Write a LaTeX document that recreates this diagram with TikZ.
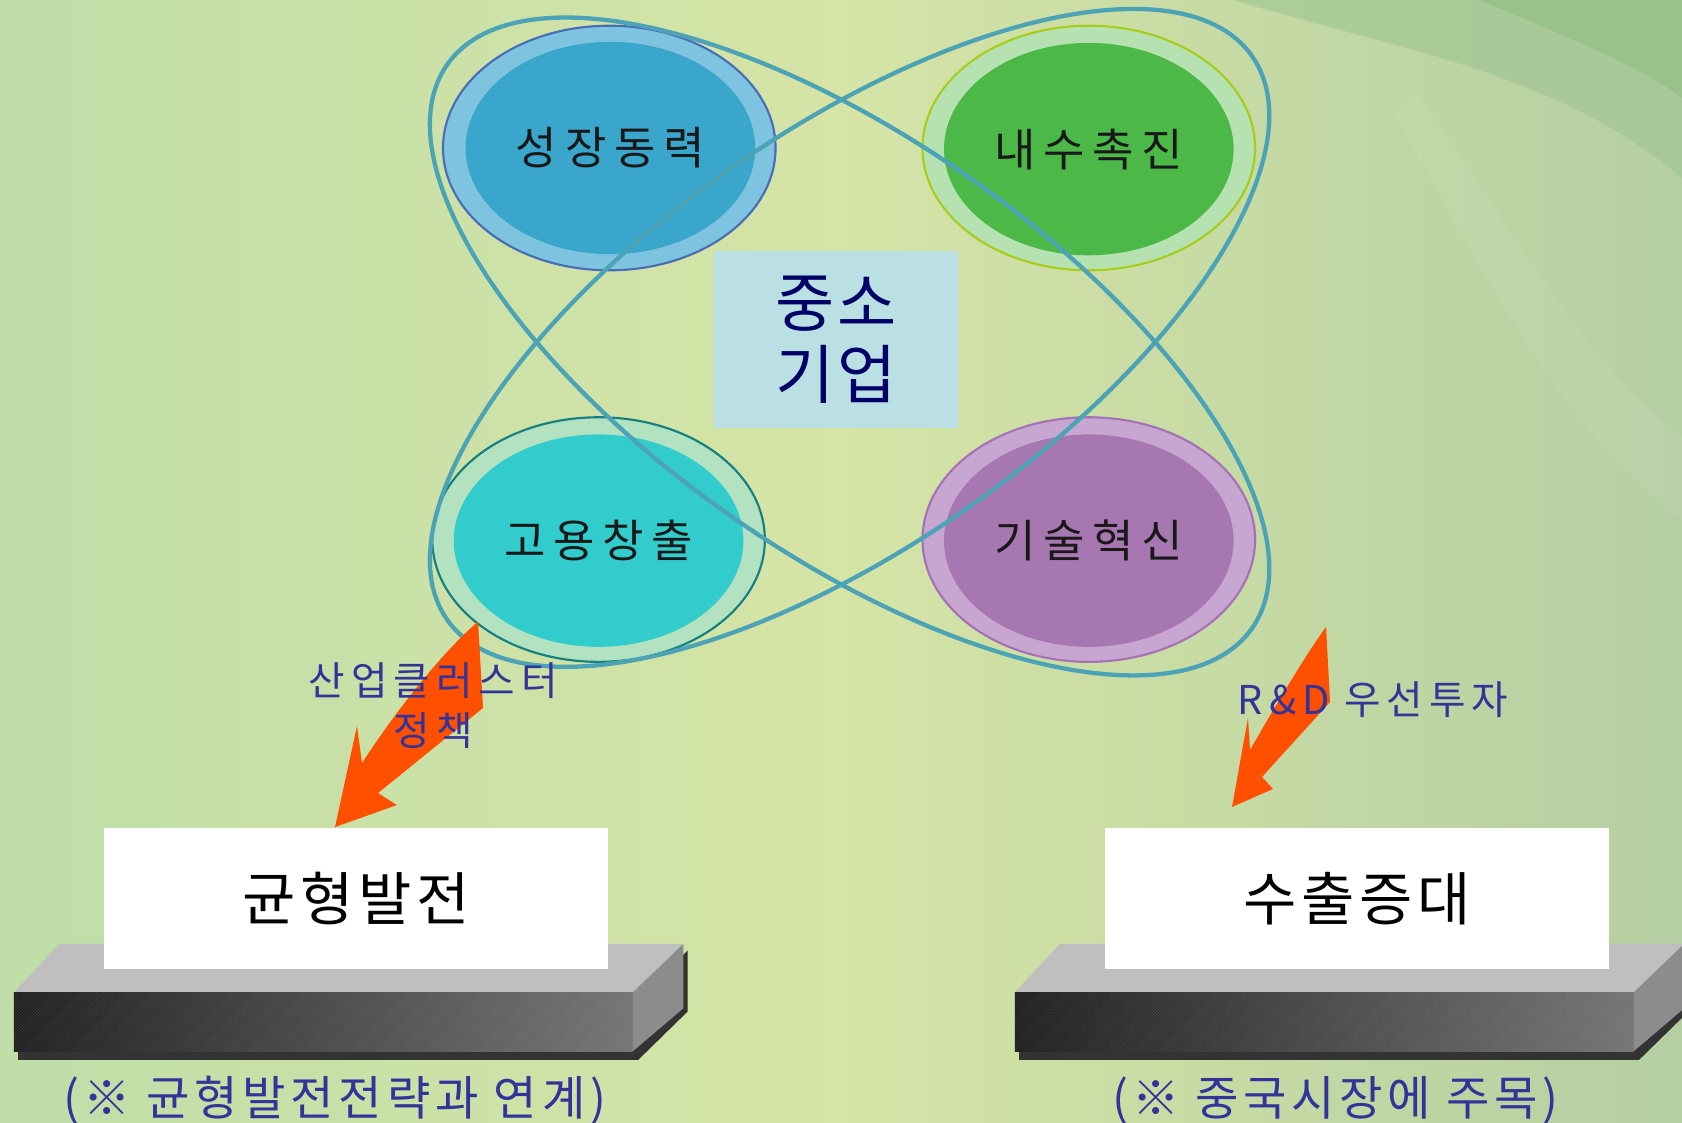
\documentclass[tikz,border=0pt]{standalone}
\usepackage{fontspec}
\setmainfont{Noto Sans CJK KR}
\usepackage{tikz}
\usetikzlibrary{shapes,patterns}

\definecolor{bgleft}{HTML}{BFDEA8}
\definecolor{bgmid}{HTML}{D6E4A6}
\definecolor{bgright}{HTML}{B4CFA2}
\definecolor{swoosh}{HTML}{A2C794}
\definecolor{swooshdark}{HTML}{96C088}
\definecolor{orbit}{HTML}{4BA3B5}
\definecolor{labelblue}{HTML}{333399}
\definecolor{navy}{HTML}{000066}
\definecolor{arrowred}{HTML}{FF5000}
\definecolor{centerbox}{HTML}{BBE0E4}
\definecolor{growthrim}{HTML}{4A6DB8}
\definecolor{growthring}{HTML}{7EC4E0}
\definecolor{growthcore}{HTML}{3AA6CC}
\definecolor{demandrim}{HTML}{A8CC1E}
\definecolor{demandring}{HTML}{B6E2B2}
\definecolor{demandcore}{HTML}{4CB848}
\definecolor{jobsrim}{HTML}{158080}
\definecolor{jobsring}{HTML}{B2E2C0}
\definecolor{jobscore}{HTML}{33CCCC}
\definecolor{techrim}{HTML}{A572B5}
\definecolor{techring}{HTML}{C8A6D2}
\definecolor{techcore}{HTML}{A677B0}

\begin{document}
\begin{tikzpicture}[x=1pt,y=1pt]
		\tikzstyle{ring}=[ellipse, line width=2pt, minimum width=310pt, minimum height=228pt, inner sep=0pt]
		\tikzstyle{core}=[ellipse, minimum width=270pt, minimum height=198pt, inner sep=0pt, text=black!90, font=\fontsize{42}{48}\selectfont\addfontfeature{LetterSpace=17}]
		\tikzstyle{orbit_line}=[draw=orbit, line width=4pt]
		\tikzstyle{plate}=[fill=white, minimum width=470pt, minimum height=131pt, inner sep=0pt, font=\fontsize{54}{60}\selectfont\addfontfeature{LetterSpace=8}]
		\tikzstyle{note}=[text=labelblue, font=\fontsize{44}{48}\selectfont\addfontfeature{LetterSpace=10}]
		\tikzstyle{policy}=[text=labelblue, align=center, font=\fontsize{37}{47}\selectfont\addfontfeature{LetterSpace=15}]
		\tikzstyle{bigarrow}=[fill=arrowred]

		\clip (0,0) rectangle (1568,1046);

		% background
		\shade[left color=bgleft, right color=bgright, middle color=bgmid] (0,0) rectangle (1568,1046);
		\fill[swoosh, opacity=0.7] (1150,1046) .. controls (1300,1000) and (1450,980) .. (1568,880) -- (1568,1046) -- cycle;
		\fill[swooshdark, opacity=0.8] (1380,1046) .. controls (1450,1015) and (1520,990) .. (1568,955) -- (1568,1046) -- cycle;
		\fill[white, opacity=0.06] (1320,960) .. controls (1400,850) and (1480,700) .. (1568,640) -- (1568,560) .. controls (1450,650) and (1380,800) .. (1300,940) -- cycle;

		% four goals
		\node [ring, draw=growthrim, fill=growthring] (growthring) at (568,908) {};
		\node [core, fill=growthcore] (growth) at (569,908) {성장동력};

		\node [ring, draw=demandrim, fill=demandring] (demandring) at (1015,908) {};
		\node [core, fill=demandcore] (demand) at (1015,907) {내수촉진};

		\node [ring, draw=jobsrim, fill=jobsring] (jobsring) at (558,543) {};
		\node [core, fill=jobscore] (jobs) at (558,542) {고용창출};

		\node [ring, draw=techrim, fill=techring] (techring) at (1015,543) {};
		\node [core, fill=techcore] (tech) at (1015,542) {기술혁신};

		% crossing orbits
		\draw [orbit_line, rotate around={-35:(792,723)}] (792,723) ellipse [x radius=458, y radius=193];
		\draw [orbit_line, rotate around={35:(792,731)}] (792,731) ellipse [x radius=458, y radius=193];

		\node [fill=centerbox, minimum width=227pt, minimum height=165pt, text=navy, align=center, font=\fontsize{60}{67}\selectfont\addfontfeature{LetterSpace=5}] (sme) at (779.5,729.5) {중소\\기업};

		% arrows
		\fill[bigarrow] (445.6,466.2) -- (450.3,386) -- (352.4,306.7) -- (370,295.5) -- (312.3,275) -- (332.8,369.2) -- (337.5,334.7)
			.. controls (380,400) and (425,450) .. (445.6,466.2) -- cycle;
		\fill[bigarrow] (1236.2,461.5) -- (1239.9,391.6) -- (1176.5,321.7) -- (1186.7,310.5) -- (1148.5,293.7) -- (1163.4,376.7) -- (1165.3,346.8)
			.. controls (1190,390) and (1220,440) .. (1236.2,461.5) -- cycle;

		\node [policy] (cluster) at (404,388) {산업클러스터\\정책};
		\node [policy] (rnd) at (1280,393.5) {R\&D 우선투자};

		% platforms
		\begin{scope}
			\fill[black!80] (17,58) -- (595,58) -- (641,103) -- (641,160) -- (595,114) -- (17,114) -- cycle;
			\fill[black!25] (55,166) -- (637,166) -- (590,121) -- (13,121) -- cycle;
			\shade[left color=black!88, right color=black!55] (13,66) rectangle (590,121);
			\fill[pattern=north east lines, pattern color=white, opacity=0.12] (13,66) rectangle (590,121);
			\fill[black!45] (590,121) -- (637,166) -- (637,106) -- (590,66) -- cycle;

			\node [plate] (balance) at (332,208.5) {균형발전};
			\node [note] (balancenote) at (312,20) {(※ 균형발전전략과 연계)};
		\end{scope}

		\begin{scope}[xshift=933pt]
			\fill[black!80] (17,58) -- (595,58) -- (641,103) -- (641,160) -- (595,114) -- (17,114) -- cycle;
			\fill[black!25] (55,166) -- (637,166) -- (590,121) -- (13,121) -- cycle;
			\shade[left color=black!88, right color=black!55] (13,66) rectangle (590,121);
			\fill[pattern=north east lines, pattern color=white, opacity=0.12] (13,66) rectangle (590,121);
			\fill[black!45] (590,121) -- (637,166) -- (637,106) -- (590,66) -- cycle;

			\node [plate] (export) at (332,208.5) {수출증대};
			\node [note] (exportnote) at (312,20) {(※ 중국시장에 주목)};
		\end{scope}

	\end{tikzpicture}
\end{document}
